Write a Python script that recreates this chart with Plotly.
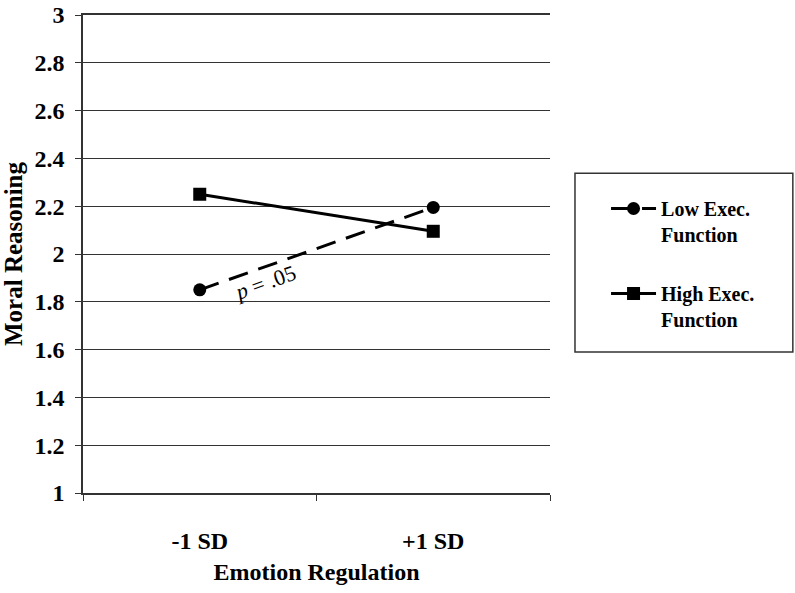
import plotly.graph_objects as go

categories = ["-1 SD", "+1 SD"]
low_exec = [1.85, 2.195]
high_exec = [2.25, 2.095]
y_ticks = [1, 1.2, 1.4, 1.6, 1.8, 2, 2.2, 2.4, 2.6, 2.8, 3]
y_tick_labels = ["1", "1.2", "1.4", "1.6", "1.8", "2", "2.2", "2.4", "2.6", "2.8", "3"]

FONT = "Liberation Serif, Times New Roman, serif"

fig = go.Figure()
fig.add_trace(go.Scatter(
    x=categories, y=low_exec, mode="lines+markers",
    name="<b>Low Exec.<br>Function</b>", legendgroup="a",
    line=dict(color="black", width=3, dash="20px,11px"),
    marker=dict(symbol="circle", size=13, color="black"),
))
fig.add_trace(go.Scatter(
    x=categories, y=high_exec, mode="lines+markers",
    name="<b>High Exec.<br>Function</b>", legendgroup="b",
    line=dict(color="black", width=3),
    marker=dict(symbol="square", size=13, color="black"),
))

fig.add_annotation(
    text="<i>p</i> = .05", xref="paper", yref="paper", x=0.39, y=0.44,
    showarrow=False, textangle=-20,
    font=dict(family=FONT, size=22, color="black"),
)

fig.add_shape(type="rect", xref="paper", yref="paper",
              x0=1.0535, x1=1.52, y0=0.295, y1=0.669,
              line=dict(color="#333", width=1.5), fillcolor="rgba(0,0,0,0)")

fig.update_layout(
    width=795, height=593,
    margin=dict(l=83, r=245, t=15, b=100),
    paper_bgcolor="white", plot_bgcolor="white",
    font=dict(family=FONT, color="black"),
    legend=dict(
        x=1.12, y=0.636, xanchor="left", yanchor="top",
        font=dict(family=FONT, size=20, color="black"),
        valign="top", tracegroupgap=30, itemwidth=45,
        bgcolor="rgba(0,0,0,0)",
    ),
    xaxis=dict(
        type="category", range=[-0.5, 1.5], tickson="boundaries",
        ticks="outside", ticklen=6, tickcolor="#333",
        showline=True, linecolor="#333", linewidth=1.5, mirror=True,
        showgrid=False, ticklabelstandoff=25, automargin=False,
        tickfont=dict(family=FONT, size=24, color="black"),
        title=dict(text="<b>Emotion Regulation</b>", standoff=11,
                   font=dict(family=FONT, size=24, color="black")),
    ),
    yaxis=dict(
        range=[1, 3], tickvals=y_ticks, ticktext=["<b>%s</b>" % t for t in y_tick_labels],
        ticks="outside", ticklen=6, tickcolor="#333",
        showline=True, linecolor="#333", linewidth=1.5,
        showgrid=True, gridcolor="#333", gridwidth=1.2, zeroline=False,
        ticklabelstandoff=6, automargin=False,
        tickfont=dict(family=FONT, size=24, color="black"),
        title=dict(text="<b>Moral Reasoning</b>", standoff=5,
                   font=dict(family=FONT, size=25, color="black")),
    ),
)
fig.update_xaxes(ticktext=["<b>%s</b>" % c for c in categories], tickvals=categories)

fig.write_html("out.html", config={"displayModeBar": False},
               post_script="document.body.style.margin='0';document.body.style.overflow='hidden';")
